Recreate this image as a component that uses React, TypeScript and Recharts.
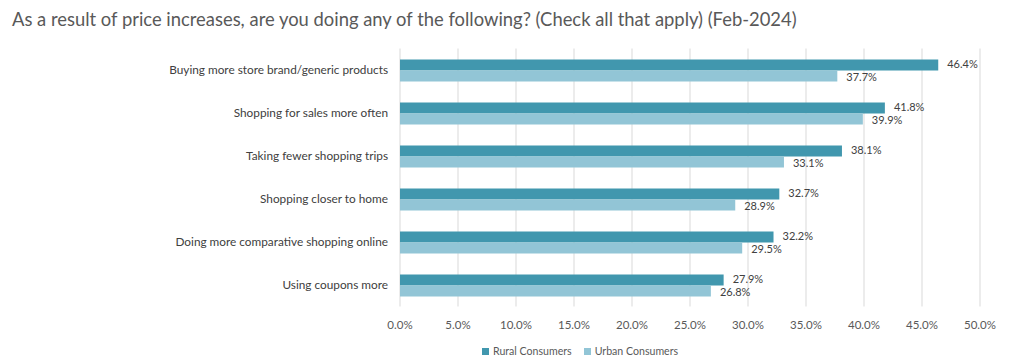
import { BarChart, Bar, XAxis, YAxis, CartesianGrid, LabelList } from 'recharts'

const categories = [
  'Buying more store brand/generic products',
  'Shopping for sales more often',
  'Taking fewer shopping trips',
  'Shopping closer to home',
  'Doing more comparative shopping online',
  'Using coupons more',
]
const rural = [46.4, 41.8, 38.1, 32.7, 32.2, 27.9]
const urban = [37.7, 39.9, 33.1, 28.9, 29.5, 26.8]
const xTicks = [0, 5, 10, 15, 20, 25, 30, 35, 40, 45, 50]

const RURAL = '#4197ae'
const URBAN = '#92c5d6'
const FONT = 'Lato, "Open Sans", sans-serif'

const data = categories.map((name, i) => ({ name, rural: rural[i], urban: urban[i] }))

const pct = (v: number) => `${v.toFixed(1)}%`
const labelStyle = { fontSize: 11, fill: '#404040', fontFamily: FONT }

export default function App() {
  return (
    <div style={{ position: 'absolute', left: 0, top: 0, width: 1024, height: 363, background: '#fff', fontFamily: FONT }}>
      <div style={{ position: 'absolute', left: 12, top: 8, fontSize: 18.4, color: '#595959', whiteSpace: 'nowrap' }}>
        As a result of price increases, are you doing any of the following? (Check all that apply) (Feb-2024)
      </div>
      <BarChart
        width={1024}
        height={363}
        data={data}
        layout="vertical"
        barGap={0}
        barSize={11}
        margin={{ top: 48.5, right: 44, bottom: 30.5, left: 0 }}
      >
        <CartesianGrid horizontal={false} stroke="#d9d9d9" />
        <XAxis
          type="number"
          domain={[0, 50]}
          ticks={xTicks}
          tickFormatter={pct}
          axisLine={false}
          tickLine={false}
          tickMargin={8}
          height={26}
          tick={{ fontSize: 11.5, fill: '#595959', fontFamily: FONT }}
        />
        <YAxis
          type="category"
          dataKey="name"
          width={400}
          axisLine={false}
          tickLine={false}
          tickMargin={6}
          tick={{ fontSize: 11.8, fill: '#404040', fontFamily: FONT }}
        />
        <Bar dataKey="rural" fill={RURAL} isAnimationActive={false}>
          <LabelList dataKey="rural" position="right" offset={9} dy={-1} formatter={(v: number) => pct(v)} style={labelStyle} />
        </Bar>
        <Bar dataKey="urban" fill={URBAN} isAnimationActive={false}>
          <LabelList dataKey="urban" position="right" offset={9} dy={1} formatter={(v: number) => pct(v)} style={labelStyle} />
        </Bar>
      </BarChart>
      <div style={{ position: 'absolute', left: 482, top: 345, display: 'flex', gap: 12, fontSize: 10.6, color: '#595959' }}>
        <span style={{ display: 'flex', alignItems: 'center', gap: 4 }}>
          <span style={{ width: 7, height: 7, background: RURAL, display: 'inline-block' }} />Rural Consumers
        </span>
        <span style={{ display: 'flex', alignItems: 'center', gap: 4 }}>
          <span style={{ width: 7, height: 7, background: URBAN, display: 'inline-block' }} />Urban Consumers
        </span>
      </div>
    </div>
  )
}
